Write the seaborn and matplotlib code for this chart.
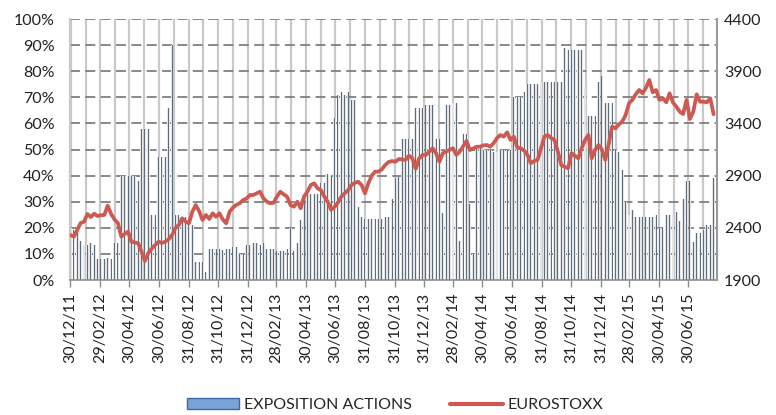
import numpy as np
import pandas as pd
import matplotlib
matplotlib.use("Agg")
import matplotlib.pyplot as plt
import seaborn as sns
from matplotlib.patches import Patch
from matplotlib.lines import Line2D

# ---------------- data ----------------
start_date = "2011-12-30"
n_weeks = 191

expo = [
    20, 19, 18, 15, 13.5, 13.5, 14, 13.5, 8, 8,
    8, 8.5, 8, 14, 14, 40, 40, 40, 40, 40,
    38, 58, 58, 58, 25, 25, 47, 47, 47, 66,
    90, 25, 25, 24, 24, 21, 21, 7, 7, 7,
    3, 12, 12, 12, 12, 11.5, 12, 12, 12.5, 12.5,
    10, 10, 13.5, 13.5, 14, 14, 13.5, 14, 12, 12,
    12, 11, 11, 11, 12, 20, 11, 14, 23, 33,
    33, 33, 33, 33, 37, 37, 40.5, 40, 62, 71,
    72, 71, 72, 69, 69, 28, 24, 23.5, 23.5, 23.5,
    23.5, 23.5, 23.5, 24, 24, 31, 39, 39.5, 54, 54,
    54, 54, 66, 66, 66, 67, 67, 67, 54, 54,
    25.5, 67, 67, 68, 68, 15, 56, 56, 29, 10,
    51, 51, 50, 50, 50, 49, 49, 50, 50, 50,
    50, 70, 70, 70, 72, 75, 75, 75, 75, 76,
    76, 76, 76, 76, 76, 76, 89, 88, 88, 88,
    88, 88, 74, 63, 63, 63, 76, 78, 68, 68,
    68, 50, 49, 42, 30, 25, 27, 24, 24, 24,
    24, 24, 24, 25, 20, 20, 25, 25, 25, 26,
    22.5, 31, 38, 38, 14.5, 18, 18, 19, 21, 21,
    39,
]

stoxx = [
    2330, 2315, 2380, 2446, 2458, 2532, 2503, 2535, 2513, 2520,
    2523, 2612, 2532, 2480, 2446, 2315, 2340, 2363, 2267, 2260,
    2252, 2171, 2082, 2160, 2200, 2235, 2267, 2254, 2267, 2290,
    2331, 2398, 2427, 2491, 2460, 2443, 2554, 2618, 2560, 2475,
    2523, 2484, 2539, 2506, 2539, 2480, 2443, 2554, 2593, 2620,
    2635, 2666, 2680, 2714, 2714, 2730, 2746, 2682, 2650, 2635,
    2640, 2700, 2746, 2720, 2698, 2618, 2602, 2650, 2587, 2700,
    2746, 2810, 2826, 2778, 2760, 2698, 2650, 2571, 2600, 2640,
    2698, 2730, 2760, 2810, 2830, 2842, 2810, 2730, 2826, 2900,
    2938, 2938, 2960, 3002, 3030, 3040, 3033, 3059, 3055, 3050,
    3091, 3066, 2965, 3066, 3098, 3098, 3129, 3162, 3114, 3033,
    3114, 3130, 3145, 3162, 3098, 3129, 3180, 3232, 3145, 3160,
    3177, 3177, 3190, 3193, 3177, 3210, 3260, 3289, 3273, 3315,
    3241, 3273, 3168, 3162, 3140, 3098, 3018, 3040, 3050, 3162,
    3273, 3289, 3260, 3241, 3129, 3000, 2985, 2970, 3114, 3090,
    3066, 3162, 3241, 3289, 3066, 3145, 3193, 3150, 3050, 3200,
    3369, 3353, 3390, 3417, 3480, 3593, 3625, 3680, 3720, 3688,
    3740, 3816, 3698, 3720, 3625, 3641, 3602, 3688, 3600, 3560,
    3512, 3490, 3625, 3442, 3512, 3679, 3608, 3608, 3602, 3641,
    3487,
]

tick_labels = [
    "30/12/11", "29/02/12", "30/04/12", "30/06/12", "31/08/12", "31/10/12",
    "31/12/12", "28/02/13", "30/04/13", "30/06/13", "31/08/13", "31/10/13",
    "31/12/13", "28/02/14", "30/04/14", "30/06/14", "31/08/14", "31/10/14",
    "31/12/14", "28/02/15", "30/04/15", "30/06/15",
]
axis_end_date = "2015-08-28"

left_ticks = list(range(0, 101, 10))
right_ticks = list(range(1900, 4401, 500))

# ---------------- build ----------------
assert len(expo) == n_weeks and len(stoxx) == n_weeks
start = pd.Timestamp(start_date)
weeks = pd.date_range(start, periods=n_weeks, freq="7D")
days = np.asarray((weeks - start).days)
df = pd.DataFrame({"day": days, "expo": expo, "stoxx": stoxx})
tick_days = np.asarray((pd.to_datetime(tick_labels, format="%d/%m/%y") - start).days)
end_day = (pd.Timestamp(axis_end_date) - start).days
month_lines = np.asarray((pd.date_range(start, pd.Timestamp(axis_end_date), freq="ME") - start).days)

sns.set_style("white")
plt.rcParams["font.family"] = ["Lato", "DejaVu Sans"]

RED = "#cd5a52"
BAR_DARK = "#5f6c79"
BAR_LIGHT = "#e4e6e9"
GRID_V = "#c9c9c9"
GRID_H = "#7f7f7f"

fig = plt.figure(figsize=(7.76, 4.15), dpi=100)
ax = fig.add_axes([70 / 776, 135 / 415, 647 / 776, 261 / 415])

# grid lines
ax.vlines(month_lines, 0, 100, color=GRID_V, lw=1.6, zorder=0)
for v in left_ticks[1:]:
    ax.axhline(v, color=GRID_H, lw=1.3, ls=(0, (5.5, 3)), zorder=0.5)

# bars: light halo + dark core
sns.barplot(data=df, x="day", y="expo", native_scale=True, width=0.8,
            color=BAR_LIGHT, saturation=1, errorbar=None, linewidth=0, ax=ax)
sns.barplot(data=df, x="day", y="expo", native_scale=True, width=0.28,
            color=BAR_DARK, saturation=1, errorbar=None, linewidth=0, ax=ax)

ax.set_xlim(-1, end_day)
ax.set_ylim(0, 100)
ax.set_yticks(left_ticks)
ax.set_yticklabels([f"{v}%" for v in left_ticks])
ax.set_xticks(tick_days)
ax.set_xticklabels(tick_labels, rotation=90)
ax.set_xlabel("")
ax.set_ylabel("")
ax.tick_params(axis="y", length=0, pad=11, labelsize=11.5, labelcolor="#222222")
ax.tick_params(axis="x", length=5, width=1, color="#8c8c8c", pad=4,
               labelsize=11.5, labelcolor="#222222", bottom=True)
for s in ["top", "right"]:
    ax.spines[s].set_visible(False)
ax.spines["left"].set_color(GRID_V)
ax.spines["left"].set_linewidth(1.6)
ax.spines["bottom"].set_color("#8c8c8c")
ax.spines["bottom"].set_linewidth(1.2)

# line on secondary axis
ax2 = ax.twinx()
sns.lineplot(data=df, x="day", y="stoxx", ax=ax2, color=RED, lw=2.7,
             solid_joinstyle="round", solid_capstyle="round")
ax2.set_xlim(-1, end_day)
ax2.set_ylim(1900, 4400)
ax2.set_yticks(right_ticks)
ax2.set_ylabel("")
ax2.set_xlabel("")
ax2.tick_params(axis="y", length=0, pad=5, labelsize=11.5, labelcolor="#222222")
for s in ["top", "left", "bottom"]:
    ax2.spines[s].set_visible(False)
ax2.spines["right"].set_color("#9a9a9a")
ax2.spines["right"].set_linewidth(1.5)

handles = [Patch(facecolor="#7aa3d6", edgecolor="#3c6aa2", linewidth=1),
           Line2D([], [], color=RED, lw=3)]
fig.legend(handles, ["EXPOSITION ACTIONS", "EUROSTOXX"], loc="center",
           bbox_to_anchor=(395 / 776, 1 - 405 / 415), ncol=2, frameon=False,
           fontsize=11.5, handlelength=3.3, handleheight=0.75,
           handletextpad=0.3, columnspacing=2.4)

fig.savefig("out.png", dpi=100)
